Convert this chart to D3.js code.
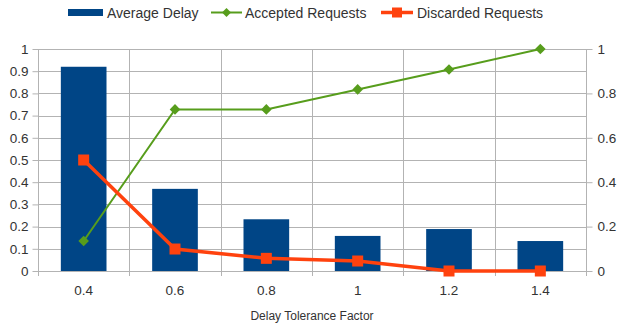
<!DOCTYPE html>
<html><head><meta charset="utf-8">
<script src="https://cdn.jsdelivr.net/npm/d3@7"></script>
<style>body{margin:0;background:#fff}svg{display:block;font-family:"Liberation Sans",Arial,sans-serif}</style>
</head><body><svg id="c" width="619" height="324"></svg>
<script>
const categories = ["0.4","0.6","0.8","1","1.2","1.4"];
const averageDelay = [0.92,0.37,0.233,0.158,0.189,0.135];
const acceptedRequests = [0.135,0.728,0.728,0.818,0.908,1.0];
const discardedRequests = [0.5,0.099,0.057,0.045,0.0,0.0];
const leftTicks = [0,0.1,0.2,0.3,0.4,0.5,0.6,0.7,0.8,0.9,1];
const rightTicks = [0,0.2,0.4,0.6,0.8,1];
const seriesNames = ["Average Delay","Accepted Requests","Discarded Requests"];
const xTitle = "Delay Tolerance Factor";

const svg = d3.select("#c");
const L=38,R=586,T=49,B=271;
const x = d3.scaleBand().domain(categories).range([L,R]).paddingInner(0.5).paddingOuter(0.25);
const xb = d3.scaleBand().domain(categories).range([L,R]);
const y = d3.scaleLinear().domain([0,1]).range([B,T]);
const y2 = d3.scaleLinear().domain([0,1]).range([B,T]);
const grid="#b3b3b3", txt="#333";
const FF="Liberation Sans, Arial, sans-serif";

svg.append("g").selectAll("line").data(leftTicks).join("line")
  .attr("x1",L).attr("x2",R).attr("y1",d=>Math.round(y(d))+0.5).attr("y2",d=>Math.round(y(d))+0.5)
  .attr("stroke",grid).attr("stroke-width",1);
const bounds = categories.map(c=>xb(c)).concat([R]);
svg.append("g").selectAll("line").data(bounds).join("line")
  .attr("x1",d=>Math.round(d)+0.5).attr("x2",d=>Math.round(d)+0.5).attr("y1",T).attr("y2",B+5)
  .attr("stroke",grid);

const ga = svg.append("g").attr("transform",`translate(${L+0.5},0)`)
  .call(d3.axisLeft(y).tickValues(leftTicks).tickFormat(d3.format("")).tickSize(6).tickPadding(4));
ga.select(".domain").remove();
ga.selectAll(".tick line").attr("stroke",grid);
ga.selectAll("text").attr("fill",txt).attr("font-size",13.5).attr("font-family",FF);
const gr = svg.append("g").attr("transform",`translate(${R+0.5},0)`)
  .call(d3.axisRight(y2).tickValues(rightTicks).tickFormat(d3.format("")).tickSize(6).tickPadding(5));
gr.select(".domain").remove();
gr.selectAll(".tick line").attr("stroke",grid);
gr.selectAll("text").attr("fill",txt).attr("font-size",13.5).attr("font-family",FF);
const gb = svg.append("g").attr("transform",`translate(0,${B})`)
  .call(d3.axisBottom(x).tickSize(0).tickPadding(14));
gb.select(".domain").remove();
gb.selectAll("text").attr("fill",txt).attr("font-size",13.5).attr("font-family",FF);

svg.append("g").selectAll("rect").data(averageDelay).join("rect")
  .attr("x",(d,i)=>x(categories[i])).attr("width",x.bandwidth())
  .attr("y",d=>y(d)).attr("height",d=>B-y(d)).attr("fill","#004586");

const cx = (d,i)=>xb(categories[i])+xb.bandwidth()/2;
svg.append("path").datum(acceptedRequests)
  .attr("d",d3.line().x(cx).y(d=>y2(d))).attr("fill","none").attr("stroke","#579d1c").attr("stroke-width",2);
svg.append("g").selectAll("path").data(acceptedRequests).join("path")
  .attr("d",d3.symbol(d3.symbolSquare,56))
  .attr("transform",(d,i)=>`translate(${cx(d,i)},${y2(d)}) rotate(45)`).attr("fill","#579d1c");
svg.append("path").datum(discardedRequests)
  .attr("d",d3.line().x(cx).y(d=>y2(d))).attr("fill","none").attr("stroke","#ff420e").attr("stroke-width",3.5);
svg.append("g").selectAll("rect").data(discardedRequests).join("rect")
  .attr("x",(d,i)=>cx(d,i)-5.5).attr("y",d=>y2(d)-5.5).attr("width",11).attr("height",11).attr("fill","#ff420e");

svg.append("text").attr("x",(L+R)/2).attr("y",320).attr("text-anchor","middle")
  .attr("font-size",12).attr("font-family",FF).attr("fill",txt).text(xTitle);

const lg = svg.append("g");
lg.append("rect").attr("x",68).attr("y",9).attr("width",35).attr("height",7).attr("fill","#004586");
lg.append("text").attr("x",107).attr("y",17.5).attr("font-size",14).attr("font-family",FF).attr("fill",txt).text(seriesNames[0]);
lg.append("line").attr("x1",211).attr("x2",242).attr("y1",12.5).attr("y2",12.5).attr("stroke","#579d1c").attr("stroke-width",2);
lg.append("path").attr("d",d3.symbol(d3.symbolSquare,40)).attr("transform","translate(226.5,12.5) rotate(45)").attr("fill","#579d1c");
lg.append("text").attr("x",245).attr("y",17.5).attr("font-size",14).attr("font-family",FF).attr("fill",txt).text(seriesNames[1]);
lg.append("line").attr("x1",381).attr("x2",413).attr("y1",12.5).attr("y2",12.5).attr("stroke","#ff420e").attr("stroke-width",3.5);
lg.append("rect").attr("x",392).attr("y",7.5).attr("width",10).attr("height",10).attr("fill","#ff420e");
lg.append("text").attr("x",417).attr("y",17.5).attr("font-size",14).attr("font-family",FF).attr("fill",txt).text(seriesNames[2]);
</script></body></html>
